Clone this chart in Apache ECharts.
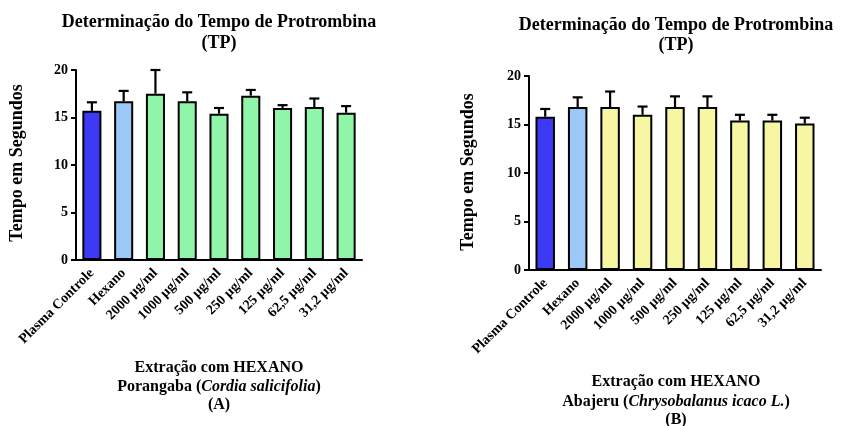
<!DOCTYPE html>
<html>
<head>
<meta charset="utf-8">
<script src="https://cdn.jsdelivr.net/npm/echarts@6/dist/echarts.min.js"></script>
<style>
  html, body { margin: 0; padding: 0; background: #fff; }
  #chart { width: 841px; height: 426px; }
</style>
</head>
<body>
<div id="chart"></div>
<script>
// Categories shared by both panels
const categories = ['Plasma Controle', 'Hexano', '2000 µg/ml', '1000 µg/ml', '500 µg/ml',
                    '250 µg/ml', '125 µg/ml', '62,5 µg/ml', '31,2 µg/ml'];

// Panel A – Porangaba (Cordia salicifolia): mean and SD (seconds)
const meanA = [15.7, 16.7, 17.5, 16.7, 15.4, 17.3, 16.0, 16.1, 15.5];
const sdA   = [0.9, 1.1, 2.5, 0.95, 0.6, 0.6, 0.3, 0.9, 0.7];

// Panel B – Abajeru (Chrysobalanus icaco L.): mean and SD (seconds)
const meanB = [15.8, 16.8, 16.8, 16.0, 16.8, 16.8, 15.4, 15.4, 15.1];
const sdB   = [0.8, 1.0, 1.6, 0.85, 1.1, 1.1, 0.6, 0.6, 0.6];

const yTicks = [0, 5, 10, 15, 20];

const SERIF = '"Liberation Serif", "DejaVu Serif", serif';
const colControl = '#3c3af4';
const colHexano = '#9cc8f8';
const colA = '#8ff5a8';
const colB = '#f7f6a2';

function barColors(extractColor) {
  return categories.map((c, i) => i === 0 ? colControl : (i === 1 ? colHexano : extractColor));
}

function xAxis(gridIndex) {
  return {
    type: 'category', gridIndex, data: categories,
    axisLine: { lineStyle: { color: '#000', width: 2 } },
    axisTick: { alignWithLabel: true, length: 5, lineStyle: { color: '#000', width: 2 } },
    axisLabel: { rotate: 45, margin: 11, color: '#000', fontFamily: SERIF, fontWeight: 'bold', fontSize: 14, interval: 0 }
  };
}

function yAxis(gridIndex) {
  return {
    type: 'value', gridIndex, min: yTicks[0], max: yTicks[yTicks.length - 1], interval: 5,
    splitLine: { show: false },
    axisLine: { show: true, lineStyle: { color: '#000', width: 2 } },
    axisTick: { show: true, length: 5, lineStyle: { color: '#000', width: 2 } },
    axisLabel: { margin: 8, color: '#000', fontFamily: SERIF, fontWeight: 'bold', fontSize: 14 }
  };
}

function barSeries(idx, means, extractColor) {
  const colors = barColors(extractColor);
  return {
    type: 'bar', xAxisIndex: idx, yAxisIndex: idx, barWidth: '60%',
    data: means.map((v, i) => ({ value: v, itemStyle: { color: colors[i] } })),
    itemStyle: { borderColor: '#000', borderWidth: 2 },
    silent: true
  };
}

function errorSeries(idx, means, sds) {
  return {
    type: 'custom', xAxisIndex: idx, yAxisIndex: idx, silent: true, z: 1,
    data: means.map((m, i) => [i, m, m + sds[i]]),
    renderItem: function (params, api) {
      const base = api.coord([api.value(0), api.value(1)]);
      const top = api.coord([api.value(0), api.value(2)]);
      const half = 5;
      const style = { stroke: '#000', lineWidth: 2.2 };
      return {
        type: 'group',
        children: [
          { type: 'line', shape: { x1: base[0], y1: base[1], x2: top[0], y2: top[1] }, style },
          { type: 'line', shape: { x1: top[0] - half, y1: top[1], x2: top[0] + half, y2: top[1] }, style }
        ]
      };
    }
  };
}

function richText(cx, y, parts) {
  const rich = {
    n: { fontFamily: SERIF, fontWeight: 'bold', fontSize: 16, fill: '#000' },
    i: { fontFamily: SERIF, fontWeight: 'bold', fontStyle: 'italic', fontSize: 16, fill: '#000' }
  };
  return {
    type: 'text', x: cx, y: y,
    style: {
      text: parts.map(p => '{' + (p.italic ? 'i' : 'n') + '|' + p.t + '}').join(''),
      rich, align: 'center', verticalAlign: 'middle', fill: '#000'
    }
  };
}

function plain(cx, y, t, size, rotation) {
  return {
    type: 'text', x: cx, y: y, rotation: rotation || 0,
    style: { text: t, align: 'center', verticalAlign: 'middle',
             font: 'bold ' + size + 'px ' + SERIF, fill: '#000' }
  };
}

const chart = echarts.init(document.getElementById('chart'), null, { renderer: 'canvas' });

chart.setOption({
  animation: false,
  backgroundColor: '#fff',
  grid: [
    { left: 76, top: 70, width: 286, height: 190 },
    { left: 529, top: 76, width: 292, height: 194 }
  ],
  xAxis: [xAxis(0), xAxis(1)],
  yAxis: [yAxis(0), yAxis(1)],
  series: [
    barSeries(0, meanA, colA),
    errorSeries(0, meanA, sdA),
    barSeries(1, meanB, colB),
    errorSeries(1, meanB, sdB)
  ],
  graphic: [
    plain(219, 22, 'Determinação do Tempo de Protrombina', 18),
    plain(219, 43, '(TP)', 18),
    plain(17, 163, 'Tempo em Segundos', 18, Math.PI / 2),
    richText(219, 368, [{ t: 'Extração com HEXANO' }]),
    richText(219, 387, [{ t: 'Porangaba (' }, { t: 'Cordia salicifolia', italic: true }, { t: ')' }]),
    richText(219, 405, [{ t: '(A)' }]),

    plain(676, 25, 'Determinação do Tempo de Protrombina', 18),
    plain(676, 45, '(TP)', 18),
    plain(468, 172, 'Tempo em Segundos', 18, Math.PI / 2),
    richText(676, 382, [{ t: 'Extração com HEXANO' }]),
    richText(676, 402, [{ t: 'Abajeru (' }, { t: 'Chrysobalanus icaco L.', italic: true }, { t: ')' }]),
    richText(676, 420, [{ t: '(B)' }])
  ]
});
</script>
</body>
</html>
